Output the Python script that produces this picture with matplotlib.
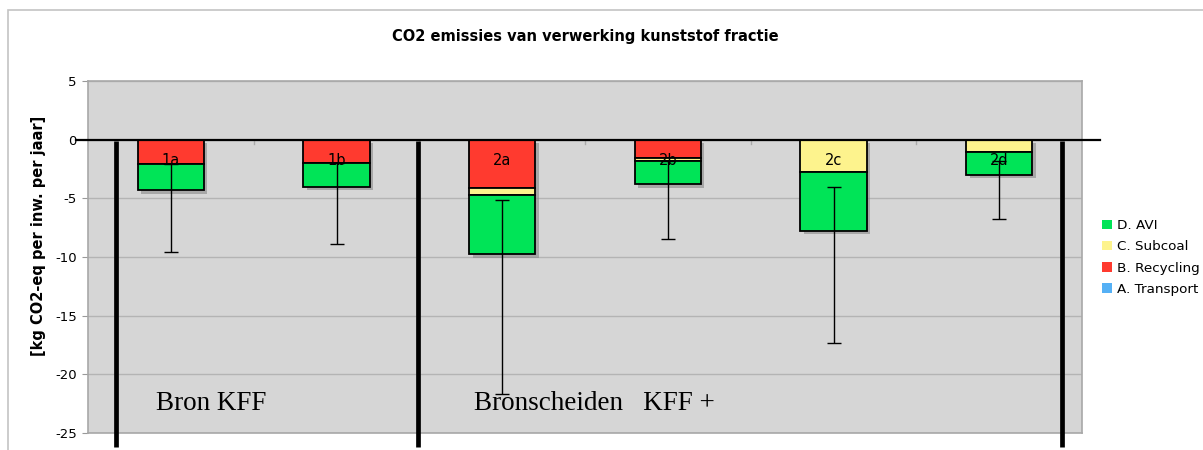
import numpy as np
import matplotlib
matplotlib.use("Agg")
import matplotlib.pyplot as plt
import matplotlib.patheffects as pe
from matplotlib.patches import Rectangle, Patch

# data (kg CO2-eq per inhabitant per year)
labels = ["1a", "1b", "2a", "2b", "2c", "2d"]
transport = [0.0, 0.0, 0.0, 0.0, 0.0, 0.0]
recycling = [-2.1, -2.0, -4.1, -1.55, 0.0, 0.0]
subcoal = [0.0, 0.0, -0.65, -0.25, -2.75, -1.05]
avi = [-2.2, -2.0, -5.0, -2.0, -5.0, -1.95]
err_top = [-2.1, -2.0, -5.1, -1.8, -4.05, -1.85]
err_bottom = [-9.6, -8.85, -21.7, -8.45, -17.3, -6.75]
group_labels = ["Bron KFF", "Bronscheiden   KFF +"]

col_avi = "#00e457"
col_subcoal = "#fdf38d"
col_recycling = "#ff3a2f"
col_transport = "#55b0f5"

plt.rcParams['font.family'] = ['DejaVu Sans']
plt.rcParams['axes.unicode_minus'] = False

fig = plt.figure(figsize=(12.03, 4.5), dpi=100)
ax = fig.add_axes([88/1203, 17/450, 994/1203, 352/450])
ax.set_facecolor("#d6d6d6")

# outer frame of the chart
fig.patches.append(Rectangle((8/1203, -0.1), 1.2, 1 - 10/450 + 0.1,
                             transform=fig.transFigure, fill=False,
                             edgecolor="#c4c4c4", lw=1.2))

x = np.arange(len(labels))
w = 0.4
shadow = [pe.SimplePatchShadow(offset=(2.5, -2.5), shadow_rgbFace="#888888",
                               alpha=0.6), pe.Normal()]

rec = np.array(recycling)
sub = np.array(subcoal)
av = np.array(avi)

kw = dict(width=w, edgecolor="black", linewidth=1.3, zorder=3)
b1 = ax.bar(x, rec, color=col_recycling, **kw)
b2 = ax.bar(x, sub, bottom=rec, color=col_subcoal, **kw)
b3 = ax.bar(x, av, bottom=rec + sub, color=col_avi, **kw)
b0 = ax.bar(x, transport, color=col_transport, **kw)
for bars in (b1, b2, b3):
    for p in bars:
        if p.get_height() != 0:
            p.set_path_effects(shadow)

# error bars
et = np.array(err_top)
eb = np.array(err_bottom)
ax.errorbar(x, et, yerr=[et - eb, np.zeros_like(et)], fmt="none",
            ecolor="black", elinewidth=1, capsize=5, capthick=1, zorder=4)

for xi, lab in zip(x, labels):
    ax.text(xi, -1.75, lab, ha="center", va="center", fontsize=10.5, zorder=5)

ax.set_xlim(-0.5, 5.5)
ax.set_ylim(-25, 5)
ax.set_yticks(np.arange(-25, 6, 5))
ax.yaxis.grid(True, color="#b4b4b4", lw=1)
ax.set_axisbelow(True)
ax.set_xticks([])
ax.tick_params(axis="y", length=4, color="#999999", labelsize=9.5, pad=4)
for s in ax.spines.values():
    s.set_color("#a8a8a8")
    s.set_linewidth(1.2)

# zero line
ax.plot([-0.57, 5.61], [0, 0], color="black", lw=1.6, clip_on=False, zorder=6)
# small category ticks on the zero line
for b in np.arange(0.5, 5.5, 1):
    ax.plot([b, b], [0, -0.35], color="#aaaaaa", lw=1, zorder=2)

# thick divider lines
for xd in [-0.33, 1.49, 5.38]:
    ax.plot([xd, xd], [-0.1, -26.2], color="black", lw=3.4, clip_on=False,
            zorder=6, solid_capstyle="butt")

ax.text(-0.09, -22.5, group_labels[0], family="Liberation Serif",
        fontsize=19.5, ha="left", va="center", zorder=6)
ax.text(1.83, -22.5, group_labels[1], family="Liberation Serif",
        fontsize=19.5, ha="left", va="center", zorder=6)

ax.set_title("CO2 emissies van verwerking kunststof fractie", fontsize=10.5,
             fontweight="bold", pad=29)
ax.set_ylabel("[kg CO2-eq per inw. per jaar]", fontsize=10.5,
              fontweight="bold", labelpad=10)
ax.yaxis.set_label_coords(-0.042, 0.56)

handles = [Patch(facecolor=col_avi, label="D. AVI"),
           Patch(facecolor=col_subcoal, label="C. Subcoal"),
           Patch(facecolor=col_recycling, label="B. Recycling"),
           Patch(facecolor=col_transport, label="A. Transport")]
fig.legend(handles=handles, loc="upper left",
           bbox_to_anchor=(1097/1203, 1 - 214/450), frameon=False,
           fontsize=9.7, handlelength=0.7, handleheight=0.7,
           handletextpad=0.4, labelspacing=0.6, borderaxespad=0)

fig.savefig("out.png", dpi=100)
